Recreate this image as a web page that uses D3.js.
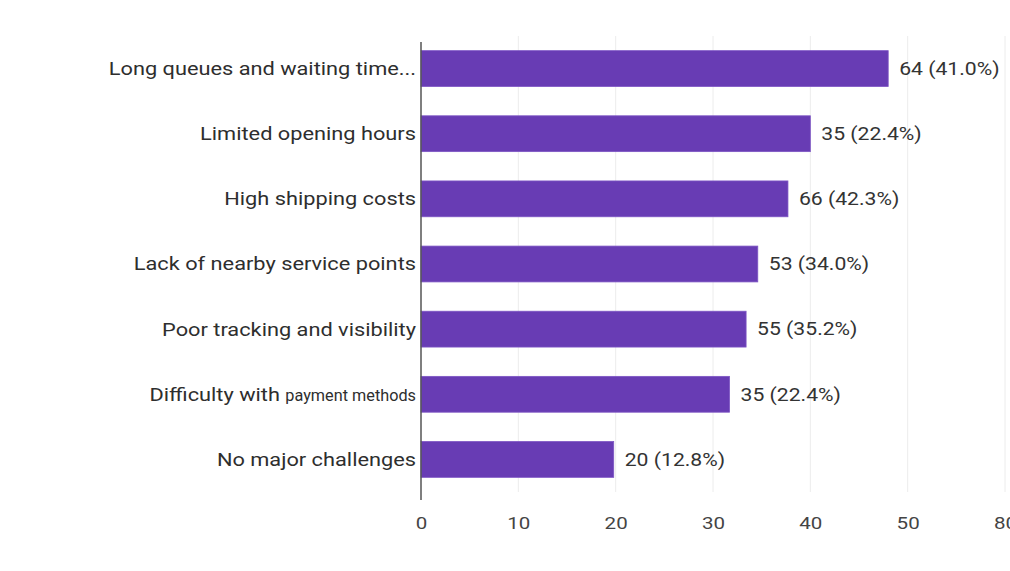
<!DOCTYPE html>
<html>
<head>
<meta charset="utf-8">
<script src="https://cdn.jsdelivr.net/npm/d3@7"></script>
<style>
  body { margin: 0; background: #fff; }
  svg { display: block; }
</style>
</head>
<body>
<div id="chart"></div>
<script>
// data
var categories = [
  'Long queues and waiting time...',
  'Limited opening hours',
  'High shipping costs',
  'Lack of nearby service points',
  'Poor tracking and visibility',
  'Difficulty with payment methods',
  'No major challenges'
];
// bar lengths as drawn against the axis
var barValues = [48.0, 40.0, 37.7, 34.6, 33.4, 31.7, 19.8];
// value labels as printed next to the bars
var valueLabels = ['64 (41.0%)', '35 (22.4%)', '66 (42.3%)', '53 (34.0%)', '55 (35.2%)', '35 (22.4%)', '20 (12.8%)'];
var tickValues = [0, 10, 20, 30, 40, 50, 60];
var tickLabels = ['0', '10', '20', '30', '40', '50', '80'];

var W = 1010, H = 571;
var margin = { left: 421, right: 5, top: 36, bottom: 79 };
var width = W - margin.left - margin.right,
    height = H - margin.top - margin.bottom;

// the source picture is stretched sideways, so text is widened to match
var stretch = 1.21;

var svg = d3.select('#chart')
    .append('svg')
    .attr('width', W)
    .attr('height', H)
    .append('g')
    .attr('transform', 'translate(' + margin.left + ',' + margin.top + ')');

var x = d3.scaleLinear()
    .domain([0, 60])
    .range([0, width]);

var y = d3.scaleBand()
    .domain(categories)
    .range([0, height])
    .paddingInner(0.45)
    .paddingOuter(0.225);

// gridlines
svg.append('g')
    .selectAll('line')
    .data(tickValues.slice(1))
    .enter()
    .append('line')
    .attr('x1', function (d) { return x(d); })
    .attr('x2', function (d) { return x(d); })
    .attr('y1', 0)
    .attr('y2', height)
    .attr('stroke', '#ececec')
    .attr('stroke-width', 1);

// bars
svg.selectAll('rect.bar')
    .data(barValues)
    .enter()
    .append('rect')
    .attr('class', 'bar')
    .attr('x', 0)
    .attr('y', function (d, i) { return y(categories[i]); })
    .attr('width', function (d) { return x(d); })
    .attr('height', y.bandwidth())
    .attr('fill', '#683cb4')
    .attr('stroke', '#7d55c4')
    .attr('stroke-width', 0.8);

// value labels
svg.selectAll('text.val')
    .data(barValues)
    .enter()
    .append('text')
    .attr('class', 'val')
    .attr('transform', function (d, i) {
        return 'translate(' + (x(d) + 11) + ',' + (y(categories[i]) + y.bandwidth() / 2) + ') scale(' + stretch + ',1)';
    })
    .attr('dy', '0.36em')
    .attr('font-family', 'Roboto, sans-serif')
    .attr('font-size', '17.5px')
    .attr('fill', '#333')
    .text(function (d, i) { return valueLabels[i]; });

// category labels
var cat = svg.selectAll('text.cat')
    .data(categories)
    .enter()
    .append('text')
    .attr('class', 'cat')
    .attr('transform', function (d) {
        return 'translate(-5,' + (y(d) + y.bandwidth() / 2) + ') scale(' + stretch + ',1)';
    })
    .attr('dy', '0.36em')
    .attr('text-anchor', 'end')
    .attr('font-family', 'Roboto, sans-serif')
    .attr('font-size', '18px')
    .attr('fill', '#2e2e2e');

cat.each(function (d) {
    var t = d3.select(this);
    if (d === 'Difficulty with payment methods') {
        t.append('tspan').text('Difficulty with ');
        // squeezed, smaller words as in the source
        t.append('tspan')
            .attr('font-size', '16px')
            .attr('textLength', 108)
            .attr('lengthAdjust', 'spacingAndGlyphs')
            .text('payment methods');
    } else {
        t.text(d);
    }
});

// x axis
var xAxis = d3.axisBottom(x)
    .tickValues(tickValues)
    .tickSize(0)
    .tickPadding(25)
    .tickFormat(function (d, i) { return tickLabels[i]; });

var gx = svg.append('g')
    .attr('transform', 'translate(0,' + height + ')')
    .call(xAxis);
gx.select('.domain').remove();
gx.selectAll('text')
    .attr('transform', 'scale(' + stretch + ',1)')
    .attr('font-family', 'Roboto, sans-serif')
    .attr('font-size', '17px')
    .attr('fill', '#444');

// vertical baseline
svg.append('line')
    .attr('x1', 0)
    .attr('x2', 0)
    .attr('y1', 6)
    .attr('y2', height + 8)
    .attr('stroke', '#555')
    .attr('stroke-width', 1.5);
</script>
</body>
</html>
